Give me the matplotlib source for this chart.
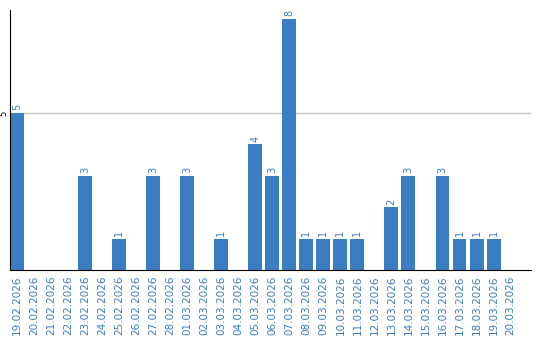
import matplotlib.pyplot as plt
import numpy as np

dates = ['19.02.2026', '20.02.2026', '21.02.2026', '22.02.2026', '23.02.2026',
         '24.02.2026', '25.02.2026', '26.02.2026', '27.02.2026', '28.02.2026',
         '01.03.2026', '02.03.2026', '03.03.2026', '04.03.2026', '05.03.2026',
         '06.03.2026', '07.03.2026', '08.03.2026', '09.03.2026', '10.03.2026',
         '11.03.2026', '12.03.2026', '13.03.2026', '14.03.2026', '15.03.2026',
         '16.03.2026', '17.03.2026', '18.03.2026', '19.03.2026', '20.03.2026']
counts = [5, 0, 0, 0, 3, 0, 1, 0, 3, 0,
          3, 0, 1, 0, 4, 3, 8, 1, 1, 1,
          1, 0, 2, 3, 0, 3, 1, 1, 1, 0]

blue = '#3a7dc2'

fig = plt.figure(figsize=(5.4, 3.4), dpi=100)
ax = fig.add_axes([10/540, 70/340, 521/540, 260/340])

x = np.arange(len(dates))
ax.bar(x, counts, width=0.82, color=blue, zorder=2)
for xi, v in zip(x, counts):
    if v > 0:
        ax.text(xi, v + 0.08, str(v), rotation=90, ha='center', va='bottom',
                color=blue, fontsize=7)

ax.set_xlim(-0.41, 30.2)
ax.set_ylim(0, 8.28)
ax.set_yticks([5])
ax.set_yticklabels(['5'], rotation=90, va='center', fontsize=6)
ax.axhline(5, color='#c8c8c8', linewidth=1, zorder=1)
ax.set_xticks(x)
ax.set_xticklabels(dates, rotation=90, color=blue, fontsize=7.5)
ax.tick_params(axis='x', length=0, pad=4)
ax.tick_params(axis='y', length=0, pad=1)

for s in ['top', 'right']:
    ax.spines[s].set_visible(False)
ax.spines['left'].set_color('black')
ax.spines['bottom'].set_color('black')

fig.savefig('out.png', dpi=100)
